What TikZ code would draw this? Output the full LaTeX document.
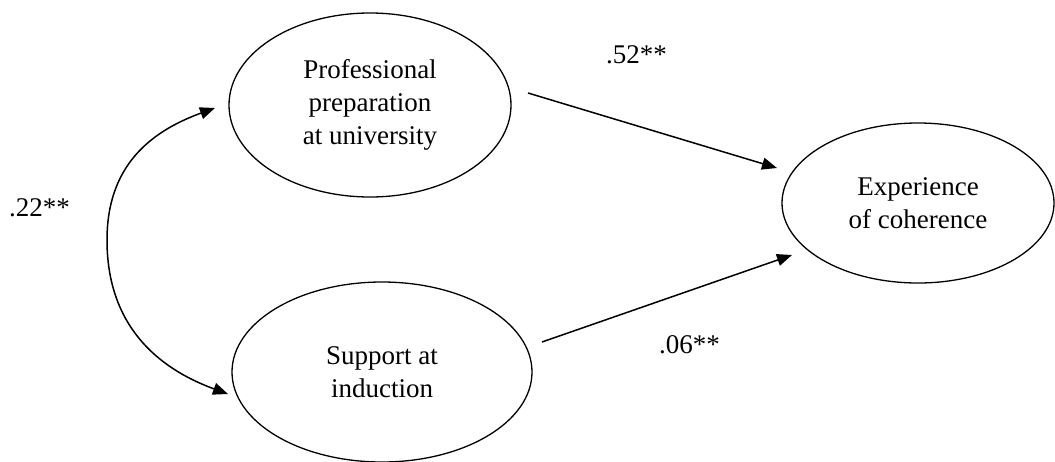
\documentclass[tikz,border=0pt]{standalone}
\usepackage{fontspec}
\setmainfont{Liberation Serif}
\usetikzlibrary{shapes.geometric,arrows.meta}
\begin{document}
\begin{tikzpicture}[x=1pt,y=-1pt,
  latent/.style={draw, ellipse, line width=1.3pt, inner sep=0pt, align=center,
    font=\fontsize{27}{33}\selectfont},
  coef/.style={anchor=base west, inner sep=0pt, font=\fontsize{27}{33}\selectfont},
  arr/.style={line width=1.5pt, -{Triangle[length=15pt,width=12pt]}},
  darr/.style={line width=1.5pt, {Triangle[length=15pt,width=12pt]}-{Triangle[length=15pt,width=12pt]}}]
\useasboundingbox (0,0) rectangle (1055,461);

\node[latent, minimum width=282pt, minimum height=184pt] (prep) at (370,105)
  {Professional\\preparation\\at university};
\node[latent, minimum width=300pt, minimum height=180pt] (supp) at (382,372)
  {Support at\\induction};
\node[latent, minimum width=272pt, minimum height=160pt] (coh) at (918,203)
  {Experience\\of coherence};

% connector end points (free ends, not touching the ellipses)
\coordinate (p1) at (528,93);
\coordinate (q1) at (777,168);
\coordinate (p2) at (542,342);
\coordinate (q2) at (792,255);
\coordinate (ca) at (215,108);
\coordinate (cm) at (107,240);
\coordinate (cb) at (228,394);

\draw[arr] (p1) -- (q1);
\draw[arr] (p2) -- (q2);
\draw[darr] (ca) .. controls (149,132) and (107,167) .. (cm)
                 .. controls (107,325) and (157,368) .. (cb);

\node[coef] (l52) at (606,63) {.52**};
\node[coef] (l06) at (659,353) {.06**};
\node[coef] (l22) at (9,216) {.22**};
\end{tikzpicture}
\end{document}
